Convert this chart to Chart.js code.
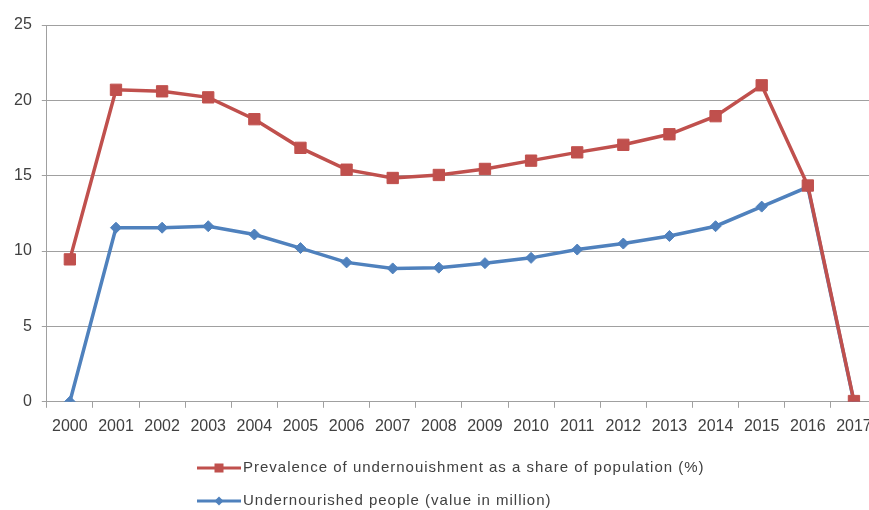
<!DOCTYPE html>
<html lang="en">
<head>
<meta charset="UTF-8">
<title>Undernourishment 2000-2017</title>
<script src="https://cdn.jsdelivr.net/npm/chart.js"></script>
<style>
  html, body { margin: 0; padding: 0; background: #fff; overflow: hidden; }
  #wrap { position: relative; width: 886px; height: 510px; }
</style>
</head>
<body>
<div id="wrap"><canvas id="chart"></canvas></div>
<script>
const years = ['2000', '2001', '2002', '2003', '2004', '2005', '2006', '2007', '2008',
               '2009', '2010', '2011', '2012', '2013', '2014', '2015', '2016', '2017'];
const prevalence = [9.45, 20.7, 20.6, 20.2, 18.75, 16.85, 15.4, 14.85, 15.05,
                    15.45, 16.0, 16.55, 17.05, 17.75, 18.95, 21.0, 14.35, 0.05];
const undernourished = [0, 11.55, 11.55, 11.65, 11.1, 10.2, 9.25, 8.85, 8.9,
                        9.2, 9.55, 10.1, 10.5, 11.0, 11.65, 12.95, 14.25, 0];
const seriesLabels = ['Prevalence of undernouishment as a share of population (%)',
                      'Undernourished people (value in million)'];

const RED = '#C0504D';
const BLUE = '#4F81BD';
const TEXT = '#404040';
const GRID = '#A0A0A0';

Chart.defaults.font.family = '"Liberation Sans", Arial, sans-serif';
Chart.defaults.font.size = 16;
Chart.defaults.color = TEXT;

// legend under the chart, one row per series, line + marker like the original
const bottomLegend = {
  id: 'bottomLegend',
  afterDraw(chart) {
    const ctx = chart.ctx;
    const rows = [468, 501];
    chart.data.datasets.forEach((ds, i) => {
      const y = rows[i];
      ctx.save();
      ctx.strokeStyle = ds.borderColor;
      ctx.lineWidth = 3;
      ctx.beginPath();
      ctx.moveTo(197, y);
      ctx.lineTo(241, y);
      ctx.stroke();
      ctx.fillStyle = ds.borderColor;
      if (ds.pointStyle === 'rect') {
        ctx.fillRect(214.5, y - 4.5, 9, 9);
      } else {
        ctx.beginPath();
        ctx.moveTo(219, y - 4.5);
        ctx.lineTo(223.5, y);
        ctx.lineTo(219, y + 4.5);
        ctx.lineTo(214.5, y);
        ctx.closePath();
        ctx.fill();
      }
      ctx.fillStyle = TEXT;
      ctx.font = '15px "Liberation Sans", Arial, sans-serif';
      ctx.letterSpacing = '1px';
      ctx.textBaseline = 'middle';
      ctx.fillText(ds.label, 243, y);
      ctx.restore();
    });
  }
};

new Chart(document.getElementById('chart'), {
  type: 'line',
  data: {
    labels: years,
    datasets: [
      {
        label: seriesLabels[0],
        data: prevalence,
        borderColor: RED,
        backgroundColor: RED,
        borderWidth: 3.5,
        pointStyle: 'rect',
        pointRadius: 8,
        pointBorderWidth: 1,
        tension: 0
      },
      {
        label: seriesLabels[1],
        data: undernourished,
        borderColor: BLUE,
        backgroundColor: BLUE,
        borderWidth: 3.5,
        pointStyle: 'rectRot',
        pointRadius: 5.5,
        pointBorderWidth: 1,
        tension: 0
      }
    ]
  },
  options: {
    responsive: true,
    maintainAspectRatio: false,
    animation: false,
    layout: { padding: { left: 4, right: 2, top: 25, bottom: 65 } },
    plugins: {
      legend: { display: false },
      tooltip: { enabled: false }
    },
    scales: {
      x: {
        offset: true,
        grid: { offset: true, drawOnChartArea: false, color: GRID, tickLength: 6 },
        border: { color: GRID },
        ticks: { padding: 9, maxRotation: 0, autoSkip: false }
      },
      y: {
        min: 0,
        max: 25,
        ticks: { stepSize: 5, padding: 10 },
        grid: { color: GRID, tickLength: 5 },
        border: { color: GRID }
      }
    }
  },
  plugins: [bottomLegend]
});
</script>
</body>
</html>
